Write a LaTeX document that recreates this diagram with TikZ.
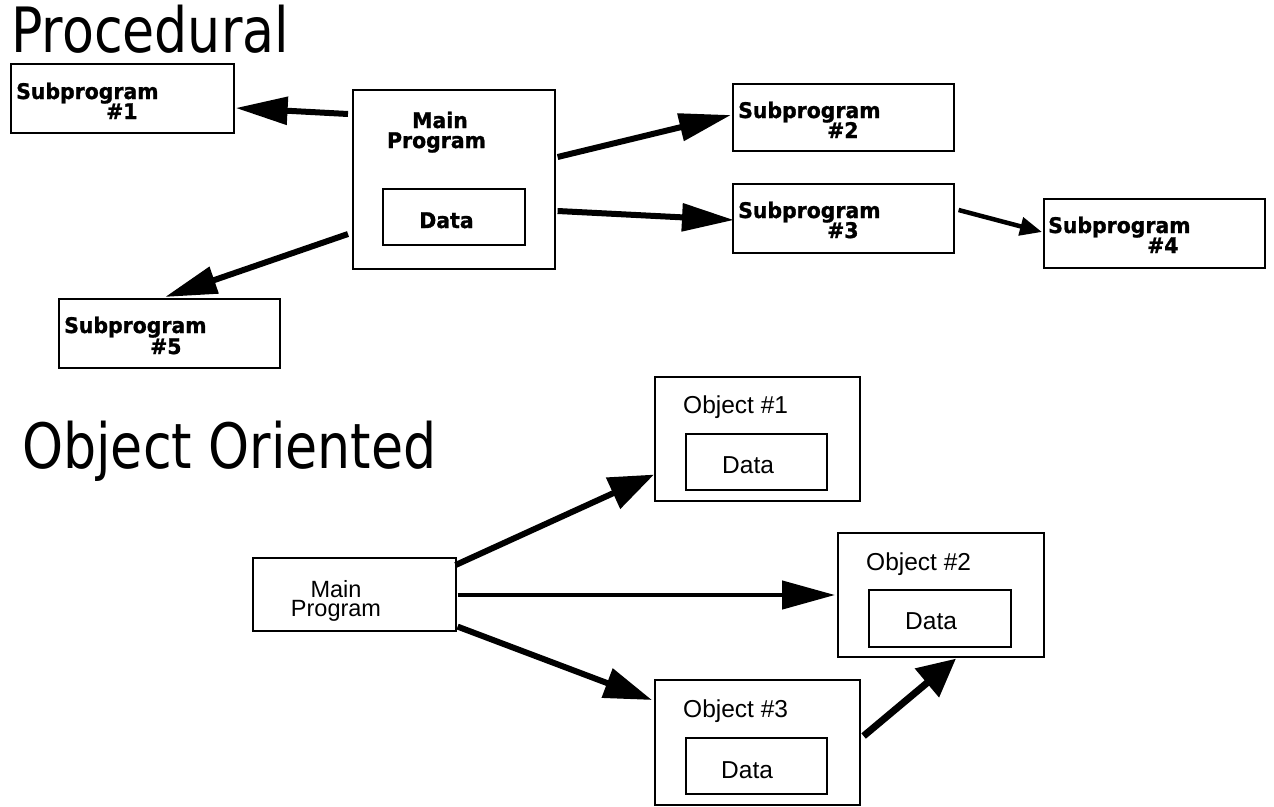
\documentclass[tikz,border=0pt]{standalone}
\usepackage{fontspec}
\setmainfont{Liberation Sans}
\newfontfamily\titlefont[FakeStretch=0.835]{DejaVu Sans}
\newfontfamily\dvfont[FakeStretch=0.95,FakeBold=1.2]{DejaVu Sans Bold}
\usetikzlibrary{arrows.meta,calc}
\tikzset{
  x=1pt, y=-1pt,
  box/.style={draw, line width=1.6pt, inner sep=0pt, anchor=north west, rectangle},
  ttl/.style={font=\titlefont\fontsize{62.5}{70}\selectfont, inner sep=0pt, anchor=base west},
  blbl/.style={font=\dvfont\fontsize{21.5}{24}\selectfont, inner sep=0pt},
  olbl/.style={font=\fontsize{24.5}{28}\selectfont, inner sep=0pt},
  mlbl/.style={font=\fontsize{23.5}{19}\selectfont, inner sep=0pt, align=center},
  bigarrow/.style={line width=6pt, -{Triangle[length=52pt,width=27pt]}},
  medarrow/.style={line width=4.5pt, -{Triangle[length=53pt,width=28pt]}},
  smallarrow/.style={line width=4.5pt, -{Triangle[length=22pt,width=18pt]}},
}
\begin{document}
\begin{tikzpicture}
\useasboundingbox (0,0) rectangle (1274,806);
% titles
\node[ttl] (tproc) at (11,52) {Procedural};
\node[ttl] (too) at (22,468) {Object Oriented};

% procedural boxes
\node[box, minimum width=223pt, minimum height=69pt] (s1) at (10,63) {};
\node[box, minimum width=202pt, minimum height=179pt] (pm) at (352,89) {};
\node[box, minimum width=142pt, minimum height=56pt] (pd) at (382,188) {};
\node[box, minimum width=221pt, minimum height=67pt] (s2) at (732,83) {};
\node[box, minimum width=221pt, minimum height=69pt] (s3) at (732,183) {};
\node[box, minimum width=221pt, minimum height=69pt] (s4) at (1043,198) {};
\node[box, minimum width=221pt, minimum height=69pt] (s5) at (58,298) {};

% procedural labels
\node[blbl, anchor=base west] (s1a) at ($(s1.north west)+(6,36)$) {Subprogram};
\node[blbl, anchor=base west] (s1b) at ($(s1.north west)+(96,56)$) {\#1};
\node[blbl, anchor=base west] (s2a) at ($(s2.north west)+(6,35)$) {Subprogram};
\node[blbl, anchor=base west] (s2b) at ($(s2.north west)+(95,55)$) {\#2};
\node[blbl, anchor=base west] (s3a) at ($(s3.north west)+(6,35)$) {Subprogram};
\node[blbl, anchor=base west] (s3b) at ($(s3.north west)+(95,55)$) {\#3};
\node[blbl, anchor=base west] (s4a) at ($(s4.north west)+(5,35)$) {Subprogram};
\node[blbl, anchor=base west] (s4b) at ($(s4.north west)+(104,55)$) {\#4};
\node[blbl, anchor=base west] (s5a) at ($(s5.north west)+(6,35)$) {Subprogram};
\node[blbl, anchor=base west] (s5b) at ($(s5.north west)+(92,56)$) {\#5};
\node[blbl, anchor=base] (pma) at ($(pm.north west)+(88,39)$) {Main};
\node[blbl, anchor=base] (pmb) at ($(pm.north west)+(84.5,59)$) {Program};
\node[blbl, anchor=base] (pdt) at ($(pd.north west)+(64.5,40)$) {Data};

% procedural arrows
\draw[bigarrow] ($(pm.north west)+(-4,25)$) -- ($(s1.north east)+(1,45)$);
\draw[bigarrow] ($(pm.north east)+(2,68)$) -- ($(s2.north west)+(-1,32)$);
\draw[bigarrow] ($(pm.north east)+(2,122)$) -- ($(s3.north west)+(2,37)$);
\draw[smallarrow] ($(s3.north east)+(4,27)$) -- ($(s4.north west)+(-1,34)$);
\draw[bigarrow] ($(pm.north west)+(-4,145)$) -- ($(s5.north west)+(107,-1)$);

% object oriented boxes
\node[box, minimum width=205pt, minimum height=124pt] (o1) at (654,376) {};
\node[box, minimum width=141pt, minimum height=56pt] (o1d) at (685,433) {};
\node[box, minimum width=206pt, minimum height=124pt] (o2) at (837,532) {};
\node[box, minimum width=142pt, minimum height=57pt] (o2d) at (868,589) {};
\node[box, minimum width=205pt, minimum height=125pt] (o3) at (654,679) {};
\node[box, minimum width=141pt, minimum height=56pt] (o3d) at (685,737) {};
\node[box, minimum width=203pt, minimum height=73pt] (om) at (252,557) {};

% object oriented labels
\node[olbl, anchor=base west] (o1t) at ($(o1.north west)+(29,37)$) {Object \#1};
\node[olbl, anchor=base west] (o2t) at ($(o2.north west)+(29,38)$) {Object \#2};
\node[olbl, anchor=base west] (o3t) at ($(o3.north west)+(29,38)$) {Object \#3};
\node[olbl, anchor=base west] (o1dt) at ($(o1d.north west)+(37,40)$) {Data};
\node[olbl, anchor=base west] (o2dt) at ($(o2d.north west)+(37,40)$) {Data};
\node[olbl, anchor=base west] (o3dt) at ($(o3d.north west)+(36,41)$) {Data};
\node[mlbl, anchor=center] (omt) at ($(om.north west)+(84,43.6)$) {Main\\Program};

% object oriented arrows
\draw[line width=6pt, -{Triangle[length=45pt,width=33pt]}] ($(om.north east)+(-1,8)$) -- ($(o1.south west)+(0,-27)$);
\draw[medarrow] ($(om.north east)+(1,38)$) -- ($(o2.north west)+(-2,63)$);
\draw[line width=6pt, -{Triangle[length=48pt,width=30pt]}] ($(om.south east)+(1,-5)$) -- ($(o3.north west)+(-2,21)$);
\draw[line width=7pt, -{Triangle[length=38pt,width=36pt]}] ($(o3.north east)+(3,57)$) -- ($(o2.south west)+(119,1)$);
\end{tikzpicture}
\end{document}
